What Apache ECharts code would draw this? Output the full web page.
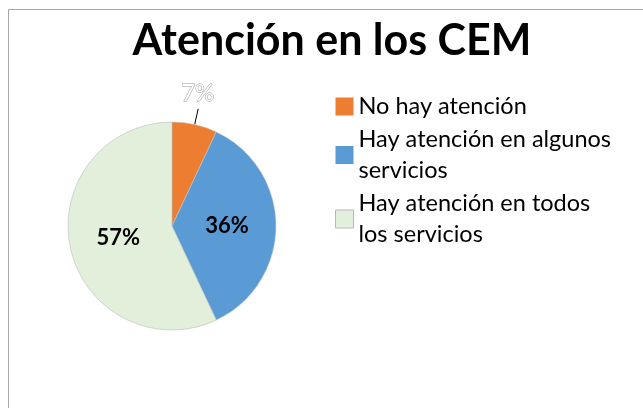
<!DOCTYPE html>
<html>
<head>
<meta charset="utf-8">
<script src="https://cdn.jsdelivr.net/npm/echarts@6/dist/echarts.min.js"></script>
<style>
  html, body { margin: 0; padding: 0; background: #fff; }
  #chart { width: 643px; height: 408px; }
</style>
</head>
<body>
<div id="chart"></div>
<script>
const categories = ['No hay atención', 'Hay atención en algunos servicios', 'Hay atención en todos los servicios']
const values = [7, 36, 57]
const colors = ['#ED7D31', '#5B9BD5', '#E2EFDA']

const legendFont = '23.5px Lato'
const legendMaxWidth = 258

// word wrap for the legend text, no leading spaces on new lines
const measureCtx = document.createElement('canvas').getContext('2d')
const wrapText = (text) => {
  measureCtx.font = legendFont
  const words = text.split(' ')
  const lines = []
  let line = ''
  words.forEach(w => {
    const test = line ? line + ' ' + w : w
    if (line && measureCtx.measureText(test).width > legendMaxWidth) {
      lines.push(line)
      line = w
    } else {
      line = test
    }
  })
  lines.push(line)
  return lines.join('\n')
}

const chart = echarts.init(document.getElementById('chart'))

const option = {
  animation: false,
  textStyle: { fontFamily: 'Lato' },
  title: {
    text: 'Atención en los CEM',
    left: 327,
    top: 15,
    textAlign: 'center',
    textStyle: { fontFamily: 'Lato', fontSize: 43, fontWeight: 'bold', color: '#000' }
  },
  graphic: [
    {
      type: 'rect',
      shape: { x: 8.5, y: 9.5, width: 700, height: 500 },
      style: { fill: 'none', stroke: '#a6a6a6', lineWidth: 1 },
      silent: true
    }
  ],
  legend: {
    orient: 'vertical',
    left: 330,
    top: 86,
    itemWidth: 18,
    itemHeight: 18,
    itemGap: 2,
    itemTextGap: 6,
    icon: 'rect',
    data: categories.map((name, i) => ({
      name: name,
      itemStyle: i === 2 ? { borderColor: '#b8b8b8', borderWidth: 1 } : { borderWidth: 0 }
    })),
    formatter: wrapText,
    textStyle: {
      fontFamily: 'Lato',
      fontSize: 23.5,
      lineHeight: 31,
      color: '#000'
    }
  },
  series: [
    {
      type: 'pie',
      center: [172, 226],
      radius: 104,
      startAngle: 90,
      clockwise: true,
      itemStyle: { borderColor: '#c8c8c8', borderWidth: 0.5 },
      label: {
        show: true,
        position: 'inside',
        formatter: '{d}%',
        fontFamily: 'Lato',
        fontSize: 22,
        fontWeight: 'bold',
        color: '#000'
      },
      labelLine: { show: false },
      labelLayout: function (params) {
        if (params.dataIndex === 0) {
          return { dx: -22, dy: -16 }
        }
      },
      data: categories.map((name, i) => {
        const item = { name: name, value: values[i], itemStyle: { color: colors[i] } }
        if (i === 0) {
          item.label = {
            position: 'outside',
            fontWeight: 'normal',
            fontSize: 24,
            color: '#fff',
            textBorderColor: '#9a9a9a',
            textBorderWidth: 1
          }
          item.labelLine = { show: true, length: 16, length2: 0, lineStyle: { color: '#000', width: 1 } }
        }
        if (i === 2) {
          item.itemStyle.borderColor = '#b0b0b0'
        }
        return item
      })
    }
  ]
}

chart.setOption(option)
</script>
</body>
</html>
